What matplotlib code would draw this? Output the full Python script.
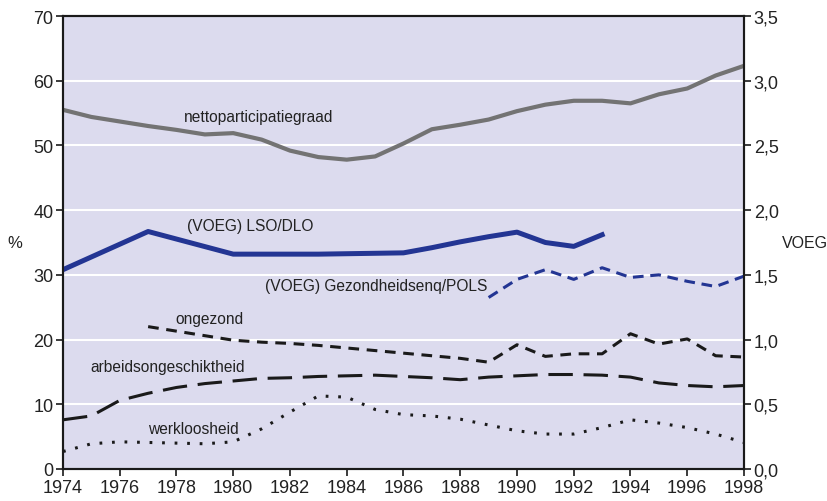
import matplotlib
matplotlib.use("Agg")
import matplotlib.pyplot as plt
from matplotlib.ticker import FuncFormatter, MultipleLocator

plt.rcParams['font.family'] = ['Liberation Sans', 'DejaVu Sans']

years_netto = list(range(1974, 1999))
netto = [55.5, 54.4, 53.7, 53.0, 52.4, 51.7, 51.9, 50.9, 49.2, 48.2, 47.8, 48.3,
         50.3, 52.5, 53.2, 54.0, 55.3, 56.3, 56.9, 56.9, 56.5, 57.9, 58.8, 60.8, 62.3]

years_lso = [1974, 1977, 1980, 1983, 1986, 1987, 1988, 1989, 1990, 1991, 1992, 1993]
lso = [1.54, 1.835, 1.66, 1.66, 1.67, 1.71, 1.755, 1.795, 1.83, 1.75, 1.72, 1.81]

years_pols = list(range(1989, 1999))
pols = [1.325, 1.465, 1.54, 1.465, 1.555, 1.48, 1.50, 1.45, 1.41, 1.49]

years_ongezond = list(range(1977, 1999))
ongezond = [22.0, 21.3, 20.6, 19.9, 19.6, 19.4, 19.1, 18.7, 18.3, 17.9, 17.5, 17.1,
            16.5, 19.2, 17.4, 17.8, 17.8, 20.9, 19.3, 20.1, 17.5, 17.3]

years_arbeid = list(range(1974, 1999))
arbeid = [7.6, 8.2, 10.6, 11.7, 12.6, 13.2, 13.6, 14.0, 14.1, 14.3, 14.4, 14.5,
          14.3, 14.1, 13.8, 14.2, 14.4, 14.6, 14.6, 14.5, 14.2, 13.3, 12.9, 12.7, 12.9]

years_werk = list(range(1974, 1999))
werk = [2.7, 3.9, 4.2, 4.1, 4.0, 3.9, 4.2, 6.2, 8.8, 11.3, 11.1, 9.2, 8.4, 8.2,
        7.7, 6.8, 5.9, 5.4, 5.4, 6.4, 7.6, 7.1, 6.4, 5.4, 4.1]

xticks = list(range(1974, 1999, 2))

bg = '#dcdbee'
blue = '#233593'
gray = '#737373'
dark = '#1a1a1a'
txt = '#222222'

fig = plt.figure(figsize=(8.28, 5.02), dpi=100)
ax = fig.add_axes([63/828, 1-470/502, (744-63)/828, (470-17)/502])
ax.set_facecolor(bg)
ax2 = ax.twinx()

ax.set_xlim(1974, 1998)
ax.set_ylim(0, 70)
ax2.set_ylim(0, 3.5)
ax.set_xticks(xticks)
ax.yaxis.set_major_locator(MultipleLocator(10))
ax2.yaxis.set_major_locator(MultipleLocator(0.5))
ax2.yaxis.set_major_formatter(FuncFormatter(lambda v, p: f"{v:.1f}".replace('.', ',')))

ax.grid(axis='y', color='white', linewidth=1.5)
ax.set_axisbelow(True)

ax.plot(years_netto, netto, color=gray, linewidth=3.0, solid_joinstyle='round')
ax.plot(years_ongezond, ongezond, color=dark, linewidth=2.2, dashes=(3.5, 2.5))
ax.plot(years_arbeid, arbeid, color=dark, linewidth=2.2, dashes=(8, 3.5))
ax.plot(years_werk, werk, color=dark, linewidth=2.2, dashes=(0.9, 3.2))
ax2.plot(years_lso, lso, color=blue, linewidth=3.6)
ax2.plot(years_pols, pols, color=blue, linewidth=2.2, dashes=(3.5, 2.2))

for a in (ax, ax2):
    for s in a.spines.values():
        s.set_color(dark)
        s.set_linewidth(1.5)
    a.tick_params(direction='out', length=5, width=1.2, color=dark, labelsize=13,
                  labelcolor=txt, pad=2)

tfs = 11.2
ax.text(1980.9, 54.4, 'nettoparticipatiegraad', fontsize=tfs, ha='center', va='center', color=txt)
ax.text(1980.6, 37.7, '(VOEG) LSO/DLO', fontsize=tfs, ha='center', va='center', color=txt)
ax.text(1985.05, 28.3, '(VOEG) Gezondheidsenq/POLS', fontsize=tfs, ha='center', va='center', color=txt)
ax.text(1979.16, 23.3, 'ongezond', fontsize=tfs, ha='center', va='center', color=txt)
ax.text(1977.67, 15.9, 'arbeidsongeschiktheid', fontsize=tfs, ha='center', va='center', color=txt)
ax.text(1978.6, 6.2, 'werkloosheid', fontsize=tfs, ha='center', va='center', color=txt)

fig.text(15/828, 1-243/502, '%', fontsize=12, ha='center', va='center', color=txt)
fig.text(805/828, 1-243/502, 'VOEG', fontsize=11.5, ha='center', va='center', color=txt)

fig.savefig('out.png', dpi=100)
